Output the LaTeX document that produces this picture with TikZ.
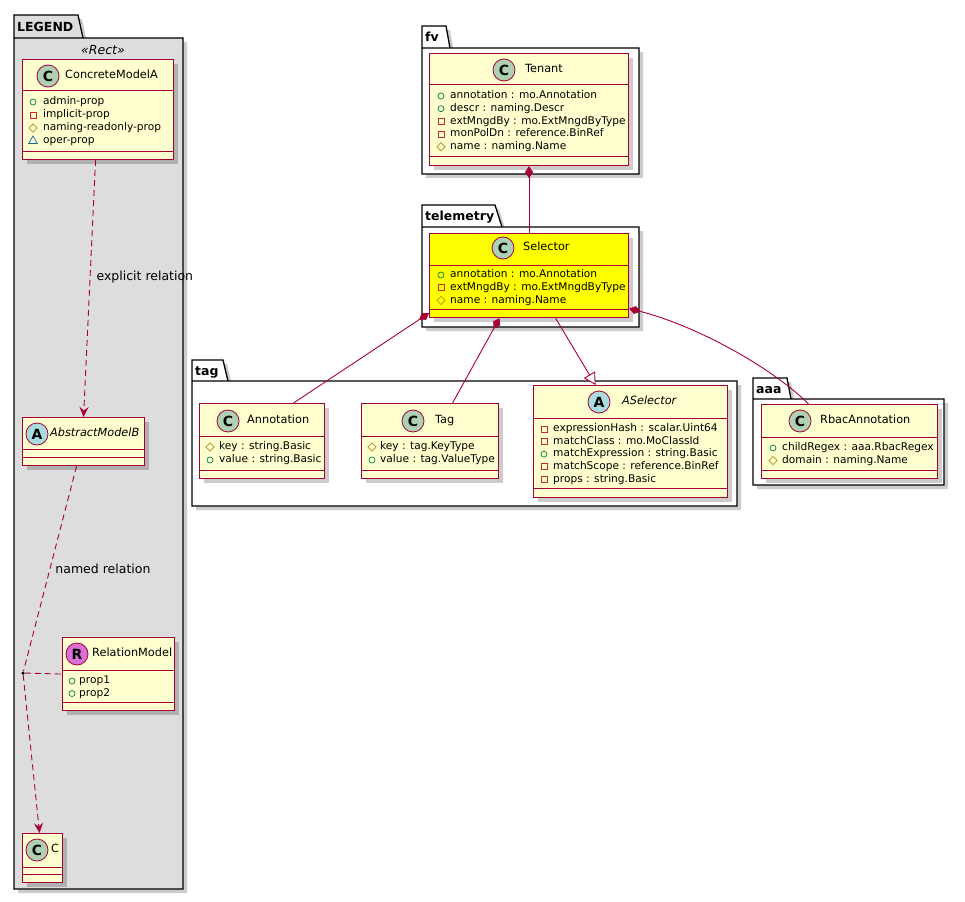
\documentclass[tikz,border=0pt]{standalone}
\usepackage{fontspec}
\setmainfont{DejaVu Sans}
\usepackage{tikz}
\usetikzlibrary{arrows.meta,calc,shapes.geometric,shadows}
\definecolor{umlRed}{HTML}{A80036}
\definecolor{umlFill}{HTML}{FEFECE}
\definecolor{umlYellow}{HTML}{FFFF00}
\definecolor{umlGray}{HTML}{DDDDDD}
\definecolor{umlSpotC}{HTML}{ADD1B2}
\definecolor{umlSpotA}{HTML}{A9DCDF}
\definecolor{umlSpotR}{HTML}{DA70D6}
\definecolor{umlPub}{HTML}{038048}
\definecolor{umlPriv}{HTML}{C82930}
\definecolor{umlProt}{HTML}{B38D22}
\definecolor{umlPkg}{HTML}{1963A0}

% box of a class: name, fill, x1, y1, x2, y2, header line, method line
\newcommand{\umlclass}[8]{%
  \node[classbox, fill=#2, minimum width=#5pt-#3pt, minimum height=#6pt-#4pt] (#1) at (#3,#4) {};
  \draw[classline] (#3,#7) -- (#5,#7) (#3,#8) -- (#5,#8);
}

\begin{document}
\begin{tikzpicture}[x=1pt, y=-1pt,
  classbox/.style={rectangle, draw=umlRed, line width=1.1pt, anchor=north west, inner sep=0,
                   drop shadow={shadow xshift=4pt, shadow yshift=-4pt, fill=black, opacity=.2}},
  classline/.style={draw=umlRed, line width=1pt},
  spot/.style={circle, draw=umlRed, line width=.8pt, minimum size=22pt, inner sep=0,
               font=\fontsize{14}{14}\selectfont\bfseries},
  cname/.style={anchor=west, inner sep=0, text height=.75em, text depth=.2em,
                font=\fontsize{11.3}{13}\selectfont},
  attr/.style={anchor=west, inner sep=0, text height=.75em, text depth=.2em,
               font=\fontsize{10.6}{12}\selectfont},
  pub/.style={circle, draw=umlPub, line width=.7pt, minimum size=6pt, inner sep=0},
  priv/.style={rectangle, draw=umlPriv, line width=.7pt, minimum size=6pt, inner sep=0},
  prot/.style={diamond, draw=umlProt, line width=.7pt, minimum size=8.5pt, inner sep=0},
  pkg/.style={regular polygon, regular polygon sides=3, draw=umlPkg, line width=.7pt,
              minimum size=10pt, inner sep=0},
  pkgframe/.style={draw=black, line width=1.3pt,
                   drop shadow={shadow xshift=4pt, shadow yshift=-4pt, fill=black, opacity=.2}},
  pkglabel/.style={anchor=base west, inner sep=0, font=\fontsize{12.5}{14}\selectfont\bfseries},
  elabel/.style={inner sep=0, font=\fontsize{12.5}{14}\selectfont},
  compo/.style={draw=umlRed, line width=.9pt, {Diamond[length=12pt,width=8pt]}-},
  inherit/.style={draw=umlRed, line width=.9pt, -{Triangle[length=12pt,width=13pt,fill=white]}},
  dashrel/.style={draw=umlRed, line width=.9pt, dash pattern=on 6pt off 4pt},
  depend/.style={dashrel, -{Stealth[length=10pt,width=9pt,inset=3.5pt]}},
]
\useasboundingbox (0,0) rectangle (965,901);

% packages
\draw[pkgframe, fill=umlGray] (14,38) rectangle (183,889) (14,38) -- (14,15) -- (78,15) -- (83,38);
\node[pkglabel] at (17,32) {LEGEND};
\node[elabel, font=\fontsize{12.5}{14}\selectfont\itshape] at (103,50) {«Rect»};
\draw[pkgframe, fill=white] (422,48) rectangle (639,174) (422,48) -- (422,26) -- (446,26) -- (450,48);
\node[pkglabel] at (425,42) {fv};
\draw[pkgframe, fill=white] (422,227) rectangle (639,327) (422,227) -- (422,205) -- (495,205) -- (502,227);
\node[pkglabel] at (425,221) {telemetry};
\draw[pkgframe, fill=white] (192,381) rectangle (737,506) (192,381) -- (192,360) -- (223,360) -- (228,381);
\node[pkglabel] at (195,375) {tag};
\draw[pkgframe, fill=white] (753,399) rectangle (944,485) (753,399) -- (753,378) -- (787,378) -- (791,399);
\node[pkglabel] at (756,393) {aaa};

% legend
\umlclass{concrete}{umlFill}{22}{59}{173}{159}{91}{152}
\node[spot, fill=umlSpotC] at (48,76) {C};
\node[cname] at (65,76) {ConcreteModelA};
\foreach \ic/\txt [count=\i from 0] in {pub/admin-prop, priv/implicit-prop, prot/naming-readonly-prop, pkg/oper-prop}
  \node[\ic] at (33,102+13*\i) {} node[attr] at (43,102+13*\i) {\txt};

\umlclass{abstract}{umlFill}{22}{417}{144}{465}{449}{457}
\node[spot, fill=umlSpotA] at (37,434) {A};
\node[cname] at (50,434) {\itshape AbstractModelB};

\umlclass{relation}{umlFill}{62}{637}{174}{710}{670}{702}
\node[spot, fill=umlSpotR] at (77,654) {R};
\node[cname] at (92,654) {RelationModel};
\foreach \ic/\txt [count=\i from 0] in {pub/prop1, pub/prop2}
  \node[\ic] at (72,681+12.5*\i) {} node[attr] at (79,681+12.5*\i) {\txt};

\umlclass{cbox}{umlFill}{22}{833}{62}{882}{867}{874}
\node[spot, fill=umlSpotC] at (37,850) {C};
\node[cname] at (51,850) {C};

\node[circle, fill=black, inner sep=0, minimum size=3.5pt] (assoc) at (23,673) {};

% fv
\umlclass{tenant}{umlFill}{429}{53}{628}{165}{85}{157}
\node[spot, fill=umlSpotC] at (504,70) {C};
\node[cname] at (525,70) {Tenant};
\foreach \ic/\txt [count=\i from 0] in {pub/annotation : mo.Annotation, pub/descr : naming.Descr,
    priv/extMngdBy : mo.ExtMngdByType, priv/monPolDn : reference.BinRef, prot/name : naming.Name}
  \node[\ic] at (441,96+12.7*\i) {} node[attr] at (450,96+12.7*\i) {\txt};

% telemetry
\umlclass{selector}{umlYellow}{429}{233}{628}{317}{265}{309}
\node[spot, fill=umlSpotC] at (503,248) {C};
\node[cname] at (523,248) {Selector};
\foreach \ic/\txt [count=\i from 0] in {pub/annotation : mo.Annotation,
    priv/extMngdBy : mo.ExtMngdByType, prot/name : naming.Name}
  \node[\ic] at (441,275+12.7*\i) {} node[attr] at (450,275+12.7*\i) {\txt};

% tag
\umlclass{annotation}{umlFill}{199}{403}{324}{478}{436}{470}
\node[spot, fill=umlSpotC] at (228,421) {C};
\node[cname] at (247,421) {Annotation};
\foreach \ic/\txt [count=\i from 0] in {prot/key : string.Basic, pub/value : string.Basic}
  \node[\ic] at (210,447+13*\i) {} node[attr] at (219,447+13*\i) {\txt};

\umlclass{tag}{umlFill}{361}{403}{498}{478}{436}{470}
\node[spot, fill=umlSpotC] at (413,421) {C};
\node[cname] at (435,421) {Tag};
\foreach \ic/\txt [count=\i from 0] in {prot/key : tag.KeyType, pub/value : tag.ValueType}
  \node[\ic] at (372,447+13*\i) {} node[attr] at (380,447+13*\i) {\txt};

\umlclass{aselector}{umlFill}{533}{385}{727}{497}{418}{488}
\node[spot, fill=umlSpotA] at (599,402) {A};
\node[cname] at (622,402) {\itshape ASelector};
\foreach \ic/\txt [count=\i from 0] in {priv/expressionHash : scalar.Uint64, priv/matchClass : mo.MoClassId,
    pub/matchExpression : string.Basic, priv/matchScope : reference.BinRef, priv/props : string.Basic}
  \node[\ic] at (544,429+12.6*\i) {} node[attr] at (553,429+12.6*\i) {\txt};

% aaa
\umlclass{rbac}{umlFill}{761}{404}{937}{478}{437}{470}
\node[spot, fill=umlSpotC] at (800,421) {C};
\node[cname] at (820,421) {RbacAnnotation};
\foreach \ic/\txt [count=\i from 0] in {pub/childRegex : aaa.RbacRegex, prot/domain : naming.Name}
  \node[\ic] at (773,448+12.5*\i) {} node[attr] at (782,448+12.5*\i) {\txt};

% relations
\draw[compo] (tenant.south) -- (selector.north);
\draw[compo] ($(selector.south west)+(0,-5)$) -- ($(annotation.north)+(31.5,0)$);
\draw[compo] ($(selector.south)+(-29.5,0)$) -- ($(tag.north)+(22.5,0)$);
\draw[inherit] ($(selector.south)+(26.5,0)$) -- ($(aselector.north)+(-35,0)$);
\draw[compo] ($(selector.east)+(0,33)$) .. controls +(70,18) and +(-35,-35) .. ($(rbac.north)+(-41,0)$);

\draw[depend] ($(concrete.south)+(-2.5,0)$) -- (abstract.north)
  node[elabel, pos=.455, right=6pt] {explicit relation};
\draw[dashrel] ($(abstract.south)+(-7,0)$) -- (assoc)
  node[elabel, pos=.5, right=5pt] {named relation};
\draw[dashrel] (assoc) -- (relation.west);
\draw[depend] (assoc) -- ($(cbox.north)+(-3,0)$);
\end{tikzpicture}
\end{document}
